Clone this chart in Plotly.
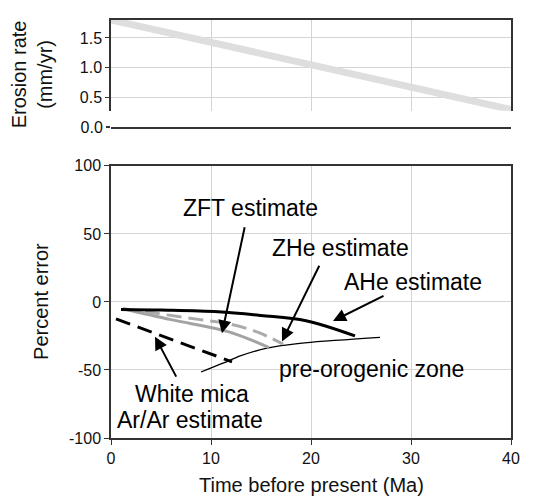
import plotly.graph_objects as go

# ---------------- data ----------------
erosion_t = [-0.4, 40.4]
erosion_rate = [1.815, 0.285]

ahe_t = [1.0, 5.0, 10.7, 15.0, 19.5, 24.4]
ahe_err = [-5.5, -6.0, -7.3, -10.0, -13.8, -25.0]

zhe_solid_t = [1.2, 6.0, 11.7, 15.8]
zhe_solid_err = [-5.0, -13.0, -21.8, -33.5]

zft_dash_t = [1.2, 5.6, 8.9, 11.7, 14.6, 17.2]
zft_dash_err = [-5.0, -9.5, -13.0, -16.0, -22.0, -31.0]

mica_t = [0.5, 6.0, 12.1]
mica_err = [-12.5, -27.5, -44.0]

preoro_t = [9.0, 11.2, 13.0, 15.6, 18.9, 22.0, 26.9]
preoro_err = [-51.5, -45.0, -39.5, -34.0, -30.5, -28.5, -26.0]

# labels: text, x, y
label_text = ["ZFT estimate", "ZHe estimate", "AHe estimate", "pre-orogenic zone",
              "White mica", "Ar/Ar estimate"]
label_x = [13.9, 22.9, 30.2, 26.0, 8.1, 7.9]
label_y = [69.0, 40.0, 14.6, -49.0, -67.7, -86.5]

# arrows: head (x, y) and tail (ax, ay)
arrow_head_x = [11.1, 17.1, 22.2, 4.4]
arrow_head_y = [-23.0, -29.0, -14.0, -25.5]
arrow_tail_x = [13.4, 20.9, 27.4, 6.6]
arrow_tail_y = [56.0, 27.7, 5.0, -56.0]

x_ticks = [0, 10, 20, 30, 40]
top_y_ticks = [0.5, 1.0, 1.5]
top_y_ticktext = ["0.5", "1.0", "1.5"]
zero_tick = [0.0]
zero_ticktext = ["0.0"]
bot_y_ticks = [-100, -50, 0, 50, 100]
bot_y_ticktext = ["-100", "-50", "0", "50", "100"]

# ---------------- style ----------------
FONT = "Liberation Sans, Arial, Helvetica, sans-serif"
AX = "#333333"
GRID = "#d4d4d4"
TICKFONT = dict(family=FONT, size=16, color="#111111")

fig = go.Figure()

fig.add_trace(go.Scatter(x=erosion_t, y=erosion_rate, mode="lines",
                         line=dict(color="#dedede", width=7), xaxis="x", yaxis="y",
                         showlegend=False, hoverinfo="skip", cliponaxis=False))
# empty trace so the thin zero strip subplot exists
fig.add_trace(go.Scatter(x=[], y=[], mode="lines", xaxis="x3", yaxis="y3",
                         showlegend=False, hoverinfo="skip"))

fig.add_trace(go.Scatter(x=preoro_t, y=preoro_err, mode="lines",
                         line=dict(color="black", width=1.3, shape="spline"),
                         xaxis="x2", yaxis="y2", showlegend=False))
fig.add_trace(go.Scatter(x=mica_t, y=mica_err, mode="lines",
                         line=dict(color="black", width=3, dash="15px,8px"),
                         xaxis="x2", yaxis="y2", showlegend=False))
fig.add_trace(go.Scatter(x=zhe_solid_t, y=zhe_solid_err, mode="lines",
                         line=dict(color="#a3a3a3", width=3, shape="spline"),
                         xaxis="x2", yaxis="y2", showlegend=False))
fig.add_trace(go.Scatter(x=zft_dash_t, y=zft_dash_err, mode="lines",
                         line=dict(color="#ababab", width=3, dash="15px,7px", shape="spline"),
                         xaxis="x2", yaxis="y2", showlegend=False))
fig.add_trace(go.Scatter(x=ahe_t, y=ahe_err, mode="lines",
                         line=dict(color="black", width=3, shape="spline"),
                         xaxis="x2", yaxis="y2", showlegend=False))

annotations = []
for t, xv, yv in zip(label_text, label_x, label_y):
    annotations.append(dict(text=t, x=xv, y=yv, xref="x2", yref="y2", showarrow=False,
                            font=dict(family=FONT, size=23, color="black"),
                            xanchor="center", yanchor="middle"))
for hx, hy, tx, ty in zip(arrow_head_x, arrow_head_y, arrow_tail_x, arrow_tail_y):
    annotations.append(dict(text="", x=hx, y=hy, ax=tx, ay=ty, xref="x2", yref="y2",
                            axref="x2", ayref="y2", showarrow=True, arrowhead=2,
                            arrowsize=1.3, arrowwidth=2, arrowcolor="black", standoff=0,
                            startstandoff=0))
# axis titles
annotations.append(dict(text="Erosion rate<br>(mm/yr)", xref="paper", yref="paper",
                        x=0, y=0.87, xshift=-79, textangle=-90, showarrow=False,
                        font=dict(family=FONT, size=20, color="#111111"),
                        xanchor="center", yanchor="middle"))
annotations.append(dict(text="Percent error", xref="paper", yref="paper",
                        x=0, y=0.3255, xshift=-70, textangle=-90, showarrow=False,
                        font=dict(family=FONT, size=20, color="#111111"),
                        xanchor="center", yanchor="middle"))
annotations.append(dict(text="Time before present (Ma)", xref="paper", yref="paper",
                        x=0.5, y=0, yshift=-47, showarrow=False,
                        font=dict(family=FONT, size=20, color="#111111"),
                        xanchor="center", yanchor="middle"))

fig.update_layout(
    width=541, height=498,
    margin=dict(l=111, r=30, t=14, b=60),
    paper_bgcolor="white", plot_bgcolor="rgba(0,0,0,0)",
    font=dict(family=FONT, color="#111111"),
    showlegend=False,
    # upper part of the top panel (framed, with grid)
    xaxis=dict(domain=[0, 1], range=[0, 40], anchor="y", side="top", tickvals=x_ticks,
               showgrid=True, gridcolor=GRID, showline=True, linecolor=AX, linewidth=1.5,
               mirror=False, showticklabels=False, zeroline=False, ticks=""),
    yaxis=dict(domain=[0.783, 1.0], range=[0.28, 1.8], anchor="x", tickvals=top_y_ticks,
               ticktext=top_y_ticktext, showgrid=True, gridcolor=GRID, gridwidth=1,
               zeroline=False, showline=True, mirror=True, linecolor=AX, linewidth=1.5,
               ticks="outside", ticklen=4, tickcolor=AX, tickfont=TICKFONT),
    # thin zero strip of the top panel
    xaxis3=dict(domain=[0, 1], range=[0, 40], anchor="y3", showgrid=False,
                showline=True, linecolor=AX, linewidth=1.5, showticklabels=False,
                zeroline=False, ticks=""),
    yaxis3=dict(domain=[0.743, 0.783], range=[0, 0.28], anchor="x3", tickvals=zero_tick,
                ticktext=zero_ticktext, showgrid=False, zeroline=False, showline=False,
                ticks="outside", ticklen=4, tickcolor=AX, tickwidth=1.5, tickfont=TICKFONT),
    # bottom panel
    xaxis2=dict(domain=[0, 1], range=[0, 40], anchor="y2", tickvals=x_ticks,
                showgrid=True, gridcolor=GRID, zeroline=False, showline=True,
                mirror=True, linecolor=AX, linewidth=1.5, ticks="outside", ticklen=5,
                tickcolor=AX, tickfont=TICKFONT),
    yaxis2=dict(domain=[0, 0.651], range=[-100, 100], anchor="x2", tickvals=bot_y_ticks,
                ticktext=bot_y_ticktext,
                showgrid=True, gridcolor=GRID, zeroline=False, showline=True,
                mirror=True, linecolor=AX, linewidth=1.5, ticks="outside", ticklen=5,
                tickcolor=AX, tickfont=TICKFONT),
    annotations=annotations,
)

fig.write_html("out.html")
